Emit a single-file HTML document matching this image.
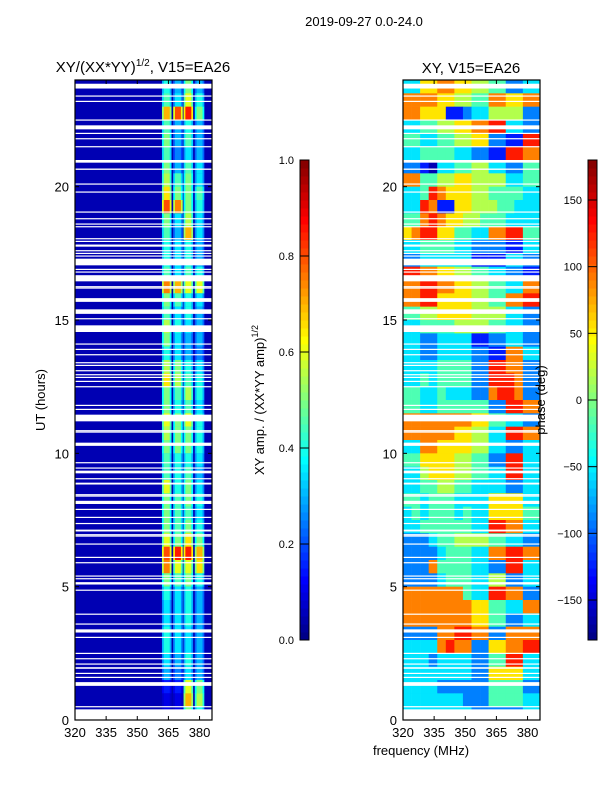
<!DOCTYPE html>
<html><head><meta charset="utf-8">
<style>
body{margin:0;background:#fff;}
svg{display:block;font-family:"Liberation Sans",sans-serif;}
</style></head>
<body>
<svg id="fig" width="600" height="800" viewBox="0 0 600 800" xmlns="http://www.w3.org/2000/svg">
<rect width="600" height="800" fill="#fff"/>
<text x="364" y="26" font-size="13" text-anchor="middle">2019-09-27 0.0-24.0</text>
<text x="143" y="72" font-size="15" text-anchor="middle">XY/(XX*YY)<tspan font-size="10" dy="-6">1/2</tspan><tspan dy="6">, V15=EA26</tspan></text>
<text x="471" y="73" font-size="15" text-anchor="middle">XY, V15=EA26</text>
<g id="left"></g>
<g id="right"></g>
<g id="cb1"></g>
<g id="cb2"></g>
<text x="45" y="400" font-size="13" text-anchor="middle" transform="rotate(-90 45 400)">UT (hours)</text>
<text x="421" y="755" font-size="13" text-anchor="middle">frequency (MHz)</text>
<text x="264" y="400" font-size="13" text-anchor="middle" transform="rotate(-90 264 400)">XY amp. / (XX*YY amp)<tspan font-size="9" dy="-6">1/2</tspan></text>
<text x="545" y="400" font-size="13" text-anchor="middle" transform="rotate(-90 545 400)">phase (deg)</text>
</svg>
<script>
// ---- data ----
const freqMin = 320, freqMax = 386;
const utMin = 0, utMax = 24;
const xTicks = [320, 335, 350, 365, 380];
const yTicks = [0, 5, 10, 15, 20];
const ampTicks = [0.0, 0.2, 0.4, 0.6, 0.8, 1.0];
const phaseTicks = [-150, -100, -50, 0, 50, 100, 150];
const bandCenters = [364.2, 369.6, 374.6, 380.0];
const bandWidth = 4.6;
const background = 0.05;
// rows from UT 24 downward, 0.5 h each; values per band
const bandAmp = [
[0.4,0.3,0.5,0.3],[0.45,0.35,0.6,0.4],[0.7,0.8,0.85,0.5],[0.45,0.3,0.4,0.3],
[0.5,0.3,0.45,0.3],[0.45,0.25,0.35,0.3],[0.5,0.3,0.45,0.35],[0.55,0.45,0.5,0.35],
[0.65,0.5,0.5,0.45],[0.8,0.75,0.5,0.4],[0.5,0.35,0.55,0.35],[0.45,0.3,0.7,0.35],
[0.4,0.35,0.4,0.3],[0.4,0.35,0.4,0.3],[0.45,0.35,0.45,0.4],[0.75,0.7,0.6,0.6],
[0.5,0.45,0.4,0.35],[0.45,0.35,0.4,0.3],[0.55,0.4,0.35,0.3],[0.5,0.35,0.3,0.3],
[0.4,0.35,0.3,0.25],[0.55,0.5,0.4,0.35],[0.65,0.55,0.45,0.4],[0.5,0.45,0.55,0.4],
[0.5,0.4,0.45,0.35],[0.6,0.5,0.6,0.4],[0.55,0.5,0.5,0.4],[0.5,0.5,0.5,0.4],
[0.45,0.4,0.4,0.35],[0.45,0.4,0.45,0.3],[0.6,0.4,0.5,0.35],[0.5,0.45,0.5,0.4],
[0.5,0.45,0.45,0.35],[0.5,0.45,0.5,0.4],[0.6,0.5,0.65,0.5],[0.8,0.85,0.85,0.7],
[0.75,0.6,0.6,0.65],[0.5,0.45,0.5,0.4],[0.4,0.35,0.4,0.3],[0.35,0.35,0.4,0.3],
[0.35,0.35,0.4,0.3],[0.4,0.35,0.35,0.3],[0.4,0.35,0.35,0.3],[0.35,0.3,0.4,0.3],
[0.3,0.25,0.35,0.3],[0.15,0.15,0.6,0.5],[0.1,0.1,0.7,0.55],[0.1,0.1,0.5,0.4]];
// phase grid: rows from UT 24 downward (0.5 h), 16 freq columns; digit d -> phase -162+36d
const phaseRows = [
"3366776655442233","7777665544776677","7766611233555522","3344556677883322",
"4433445566221188","3344443322118877","2210334455332244","7744556655553344",
"3348766655444433","3387116655544333","4478766554443333","6788664433778844",
"3344443322221133","2233333311113322","8877665544332211","7788776655443377",
"7788666655447788","4455666655553322","3344445555443322","3322333311223322",
"3322333322117733","3333444422887722","3343444422888722","4433433322788722",
"4433444444228877","7777777766443322","7777776655338877","3377666655332233",
"4466665544228833","3356665544338833","3344554433332233","4434443333666633",
"3434443433666644","3344444433887733","2223445555443322","2222344433778877",
"2227444433228833","2222344433552233","7777777433887722","7777777766443377",
"7777777766442233","2222778877227777","3333787722667788","3332333322448833",
"3333333322666633","3333222222444422","3333333222444433","3333333322222233"];
// flagged (white) UT intervals [start, end]
const gaps = [
[23.68,23.86],[23.38,23.42],[23.18,23.22],[22.48,22.52],[22.15,22.3],[21.98,22.02],
[21.78,21.82],[21.48,21.52],[20.9,21.0],[20.63,20.68],[20.08,20.12],[19.78,19.82],
[19.03,19.07],[18.78,18.82],[18.58,18.62],[18.48,18.52],[18.03,18.07],[17.93,17.97],
[17.75,17.83],[17.58,17.62],[17.48,17.52],[17.38,17.42],[17.05,17.3],[16.88,16.92],
[16.78,16.82],[16.58,16.62],[16.45,16.68],[16.23,16.27],[16.18,16.22],[15.68,15.82],
[15.23,15.4],[15.03,15.07],[14.55,14.8],[14.08,14.12],[13.88,13.92],[13.68,13.72],
[13.38,13.42],[13.28,13.32],[13.08,13.12],[12.93,12.97],[12.83,12.87],[12.68,12.72],
[12.48,12.52],[11.78,11.82],[11.63,11.67],[11.2,11.45],[10.83,10.87],[10.78,10.82],
[10.28,10.4],[9.63,9.67],[9.43,9.47],[9.25,9.35],[9.03,9.07],[8.83,8.9],[8.43,8.47],
[8.38,8.42],[8.1,8.22],[7.88,7.92],[7.58,7.62],[7.35,7.39],[7.07,7.14],[6.93,6.97],
[6.88,6.92],[6.58,6.62],[6.08,6.12],[5.88,5.92],[5.38,5.42],[5.28,5.32],[5.08,5.17],
[4.85,4.89],[3.95,3.99],[3.58,3.62],[3.28,3.4],[3.08,3.12],[2.48,2.52],[2.28,2.32],
[2.08,2.12],[1.92,1.98],[1.73,1.77],[1.58,1.62],[1.28,1.42],[0.48,0.52],[0,0.4]];

// ---- helpers ----
const NS = "http://www.w3.org/2000/svg";
function jet(v){
  v = Math.max(0, Math.min(1, v));
  const r = Math.max(0, Math.min(1, 1.5 - Math.abs(4*v - 3)));
  const g = Math.max(0, Math.min(1, 1.5 - Math.abs(4*v - 2)));
  const b = Math.max(0, Math.min(1, 1.5 - Math.abs(4*v - 1)));
  return `rgb(${Math.round(r*255)},${Math.round(g*255)},${Math.round(b*255)})`;
}
function mk(tag, attrs, parent){
  const e = document.createElementNS(NS, tag);
  for (const k in attrs) e.setAttribute(k, attrs[k]);
  parent.appendChild(e);
  return e;
}
const panelTop = 80, panelBot = 720;
function yScale(ut){ return panelBot - (ut - utMin) / (utMax - utMin) * (panelBot - panelTop); }
function makeX(x0, x1){ return f => x0 + (f - freqMin) / (freqMax - freqMin) * (x1 - x0); }

function drawAxes(g, x0, x1, xS){
  const fr = mk('rect', {x:x0, y:panelTop, width:x1-x0, height:panelBot-panelTop, fill:'none', stroke:'#000', 'stroke-width':1.2}, g);
  
  
  xTicks.forEach(t => {
    const x = xS(t);
    mk('line', {x1:x, x2:x, y1:panelBot, y2:panelBot-4, stroke:'#000'}, g);
    mk('line', {x1:x, x2:x, y1:panelTop, y2:panelTop+4, stroke:'#000'}, g);
    const tx = mk('text', {x:x, y:panelBot+17, 'font-size':13, 'text-anchor':'middle'}, g);
    tx.textContent = t;
    
    
  });
  yTicks.forEach(t => {
    const y = yScale(t);
    mk('line', {x1:x0, x2:x0+4, y1:y, y2:y, stroke:'#000'}, g);
    mk('line', {x1:x1, x2:x1-4, y1:y, y2:y, stroke:'#000'}, g);
    const tx = mk('text', {x:x0-6, y:y+5, 'font-size':13, 'text-anchor':'end'}, g);
    tx.textContent = t;
    
    
  });
}
function drawGaps(g, x0, x1){
  gaps.forEach(gp => {
    const r = mk('rect', {x:x0, y:yScale(gp[1]), width:x1-x0, height:Math.max(1.2, yScale(gp[0]) - yScale(gp[1])), fill:'#fff'}, g);
    
    
  });
}

// ---- left amplitude panel ----
(function(){
  const g = document.getElementById('left');
  const x0 = 75, x1 = 212, xS = makeX(x0, x1);
  const bg = mk('rect', {x:x0, y:panelTop, width:x1-x0, height:panelBot-panelTop, fill:jet(background)}, g);
  
  
  const nRows = bandAmp.length, rowH = (utMax - utMin) / nRows;
  bandAmp.forEach((row, i) => {
    const utHi = utMax - i*rowH, utLo = utHi - rowH;
    row.forEach((v, b) => {
      const c = bandCenters[b];
      const outer = mk('rect', {x:xS(c - bandWidth/2), y:yScale(utHi), width:xS(c + bandWidth/2) - xS(c - bandWidth/2), height:yScale(utLo) - yScale(utHi) + 0.3, fill:jet(v*0.75)}, g);
      
      
      const inner = mk('rect', {x:xS(c - bandWidth/3.2), y:yScale(utHi), width:xS(c + bandWidth/3.2) - xS(c - bandWidth/3.2), height:yScale(utLo) - yScale(utHi) + 0.3, fill:jet(v)}, g);
      
      
    });
  });
  drawGaps(g, x0, x1);
  drawAxes(g, x0, x1, xS);
})();

// ---- right phase panel ----
(function(){
  const g = document.getElementById('right');
  const x0 = 403, x1 = 540, xS = makeX(x0, x1);
  const nRows = phaseRows.length, rowH = (utMax - utMin) / nRows;
  const nCols = phaseRows[0].length, colW = (freqMax - freqMin) / nCols;
  phaseRows.forEach((row, i) => {
    const utHi = utMax - i*rowH, utLo = utHi - rowH;
    for (let j = 0; j < nCols; j++){
      const ph = -162 + 36 * Number(row[j]);
      const f0 = freqMin + j*colW;
      const r = mk('rect', {x:xS(f0), y:yScale(utHi), width:xS(f0+colW) - xS(f0) + 0.3, height:yScale(utLo) - yScale(utHi) + 0.3, fill:jet((ph + 180) / 360)}, g);
      
      
    }
  });
  drawGaps(g, x0, x1);
  drawAxes(g, x0, x1, xS);
})();

// ---- colorbars ----
function colorbar(id, x, vmin, vmax, ticks, fmt){
  const g = document.getElementById(id);
  const top = 160, bot = 640, w = 9;
  const n = 60;
  for (let i = 0; i < n; i++){
    const r = mk('rect', {x:x, y:top + (bot-top)*(n-1-i)/n, width:w, height:(bot-top)/n + 0.5, fill:jet((i+0.5)/n)}, g);
    
    
  }
  mk('rect', {x:x, y:top, width:w, height:bot-top, fill:'none', stroke:'#000', 'stroke-width':1}, g);
  ticks.forEach(t => {
    const y = bot - (t - vmin) / (vmax - vmin) * (bot - top);
    mk('line', {x1:x, x2:x+w, y1:y, y2:y, stroke:'#000'}, g);
    const tx = mk('text', {x:x-6, y:y+4, 'font-size':11, 'text-anchor':'end'}, g);
    tx.textContent = fmt(t);
    
    
  });
}
colorbar('cb1', 300, 0, 1, ampTicks, t => t.toFixed(1));
colorbar('cb2', 588, -180, 180, phaseTicks, t => (t < 0 ? '\u2212' + (-t) : '' + t));
</script>
</body></html>
